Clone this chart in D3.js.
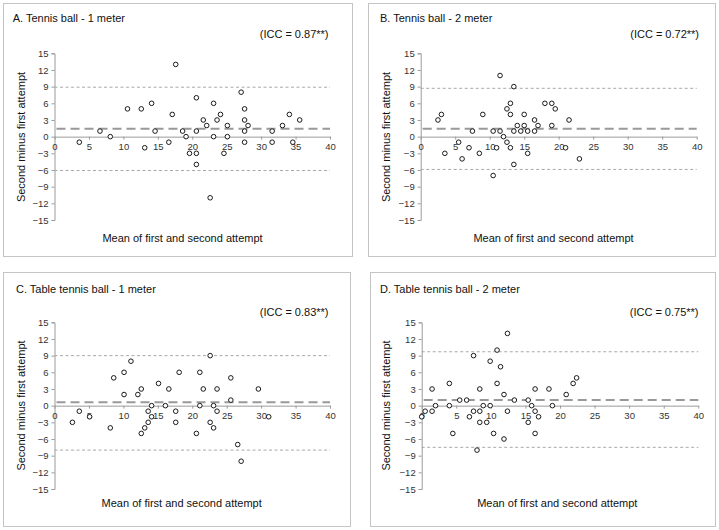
<!DOCTYPE html>
<html><head><meta charset="utf-8">
<script src="https://cdn.jsdelivr.net/npm/d3@7/dist/d3.min.js"></script>
<style>
html,body{margin:0;padding:0;background:#fff;}
svg text{font-family:"Liberation Sans",Arial,sans-serif;}
</style></head>
<body><svg id="c" width="719" height="530"></svg>
<script>
// ---- data ----
const titles = ["A. Tennis ball - 1 meter","B. Tennis ball - 2 meter","C. Table tennis ball - 1 meter","D. Table tennis ball - 2 meter"];
const iccLabels = ["(ICC = 0.87**)","(ICC = 0.72**)","(ICC = 0.83**)","(ICC = 0.75**)"];
const xTicks = [0,5,10,15,20,25,30,35,40];
const yTicks = [-15,-12,-9,-6,-3,0,3,6,9,12,15];
const xLabel = "Mean of first and second attempt";
const yLabel = "Second minus first attempt";
// mean difference (bias) and limits of agreement per panel
const bias  = [1.4, 1.4, 0.6, 1.0];
const upper = [8.9, 8.7, 9.0, 9.7];
const lower = [-6.1, -5.9, -8.0, -7.5];

const meanA = [3.6,6.6,8.1,10.6,12.6,13.1,14.1,14.6,16.6,17.1,17.6,18.6,19.1,19.6,20.6,20.6,20.6,20.6,21.6,22.1,22.6,23.1,23.1,23.6,24.1,24.6,25.1,25.1,27.1,27.6,27.6,27.6,27.6,28.1,31.6,31.6,33.1,34.1,34.6,35.6];
const diffA = [-1,1,0,5,5,-2,6,1,-1,4,13,1,0,-3,-3,1,7,-5,3,2,-11,6,0,3,4,-3,2,0,8,5,3,1,-1,2,1,-1,2,4,-1,3];

const meanB = [2.5,3.0,3.5,5.5,6.0,7.0,7.5,8.5,9.0,10.5,10.5,11.0,11.5,11.5,12.0,12.5,12.5,13.0,13.0,13.0,13.5,13.5,13.5,14.0,14.5,15.0,15.0,15.5,15.5,16.5,16.5,17.0,18.0,19.0,19.0,19.5,21.0,21.5,23.0];
const diffB = [3,4,-3,-1,-4,-2,1,-3,4,1,-7,-2,1,11,0,5,-1,-2,4,6,9,1,-5,2,1,4,2,1,-3,3,1,2,6,6,2,5,-2,3,-4];

const meanC = [2.6,3.6,5.1,8.1,8.6,10.1,10.1,11.1,12.1,12.6,12.6,13.1,13.6,13.6,14.1,14.1,15.1,16.1,16.6,17.6,17.6,18.1,20.6,21.1,21.1,21.6,22.6,22.6,23.1,23.1,23.6,23.6,25.6,25.6,26.6,27.1,29.6,31.1];
const diffC = [-3,-1,-2,-4,5,6,2,8,2,3,-5,-4,-1,-3,0,-2,4,0,3,-1,-3,6,-5,6,0,3,9,-3,0,-4,3,-1,5,1,-7,-10,3,-2];

const meanD = [0.0,0.5,1.5,1.5,2.0,4.0,4.0,4.5,5.5,6.5,6.9,7.5,7.5,8.0,8.4,8.4,8.4,8.9,9.4,9.9,9.9,10.4,10.9,10.9,11.4,11.9,11.9,12.4,12.4,13.4,15.4,15.4,15.9,16.4,16.4,16.4,16.9,18.4,18.9,20.9,21.9,22.4];
const diffD = [-2,-1,3,-1,0,4,0,-5,1,1,-2,9,-1,-8,3,-1,-3,0,-3,8,0,-5,10,4,7,2,-6,13,-1,1,1,-3,0,3,-1,-5,-2,3,0,2,4,5];

const means = [meanA, meanB, meanC, meanD];
const diffs = [diffA, diffB, diffC, diffD];

// ---- layout ----
const panels = [
  {box:[3.5,3.5,349,253], plot:[54.5,330,53.3,220], title:[12.7,21.5], icc:[328.5,37.5], yl:[24.5,137], xl:[182.5,241.5]},
  {box:[368.5,3.5,347,253], plot:[420.7,696.7,53.3,220], title:[380,21.5], icc:[699,37.5], yl:[390,137], xl:[553.5,241.5]},
  {box:[3.5,272.5,347,254], plot:[54.5,330,322.3,489], title:[16,292.5], icc:[328.5,315.5], yl:[24.5,405.5], xl:[181.7,506.5]},
  {box:[370.5,272.5,345,254], plot:[421.7,698.3,322.3,489], title:[380,292.5], icc:[698.5,315.5], yl:[390,405.5], xl:[557.3,506.5]}
];

const svg = d3.select("#c");

panels.forEach((p, i) => {
  const g = svg.append("g");
  g.append("rect").attr("x",p.box[0]).attr("y",p.box[1]).attr("width",p.box[2]).attr("height",p.box[3])
    .attr("fill","#fff").attr("stroke","#c4c4c4").attr("stroke-width",1);

  const x = d3.scaleLinear().domain([0,40]).range([p.plot[0],p.plot[1]]);
  const y = d3.scaleLinear().domain([-15,15]).range([p.plot[3],p.plot[2]]);

  // y axis
  const ya = g.append("g").attr("transform",`translate(${x(0)},0)`)
    .call(d3.axisLeft(y).tickValues(yTicks).tickSize(3).tickPadding(3).tickFormat(d3.format("d")));
  ya.select(".domain").attr("stroke","#9a9a9a");
  ya.selectAll(".tick line").attr("stroke","#9a9a9a");
  ya.selectAll("text").attr("font-size","9.5px").attr("fill","#333");

  // x axis at y=0
  const xa = g.append("g").attr("transform",`translate(0,${y(0)})`)
    .call(d3.axisBottom(x).tickValues(xTicks).tickSize(3).tickPadding(4).tickSizeOuter(0));
  xa.select(".domain").attr("stroke","#9a9a9a");
  xa.selectAll(".tick line").attr("stroke","#9a9a9a");
  xa.selectAll("text").attr("font-size","9.5px").attr("fill","#333");

  // limits of agreement
  [upper[i], lower[i]].forEach(v => {
    g.append("line").attr("x1",x(0)).attr("x2",x(40)).attr("y1",y(v)).attr("y2",y(v))
      .attr("stroke","#a8a8a8").attr("stroke-width",1).attr("stroke-dasharray","3,2.5");
  });
  // bias
  g.append("line").attr("x1",x(0)+2).attr("x2",x(40)).attr("y1",y(bias[i])).attr("y2",y(bias[i]))
    .attr("stroke","#999").attr("stroke-width",2).attr("stroke-dasharray","9,5");

  // points
  g.selectAll("circle.pt").data(means[i].map((m,k)=>[m,diffs[i][k]])).enter()
    .append("circle").attr("class","pt")
    .attr("cx",d=>x(d[0])).attr("cy",d=>y(d[1])).attr("r",2.3)
    .attr("fill","#fff").attr("stroke","#1a1a1a").attr("stroke-width",1);

  // texts
  g.append("text").attr("x",p.title[0]).attr("y",p.title[1]).attr("font-size","11px").attr("fill","#111").text(titles[i]);
  g.append("text").attr("x",p.icc[0]).attr("y",p.icc[1]).attr("text-anchor","end").attr("font-size","11px").attr("fill","#111").text(iccLabels[i]);
  g.append("text").attr("transform",`translate(${p.yl[0]},${p.yl[1]}) rotate(-90)`).attr("text-anchor","middle")
    .attr("font-size","11px").attr("fill","#111").text(yLabel);
  g.append("text").attr("x",p.xl[0]).attr("y",p.xl[1]).attr("text-anchor","middle").attr("font-size","11px").attr("fill","#111").text(xLabel);
});
</script>
</body></html>
